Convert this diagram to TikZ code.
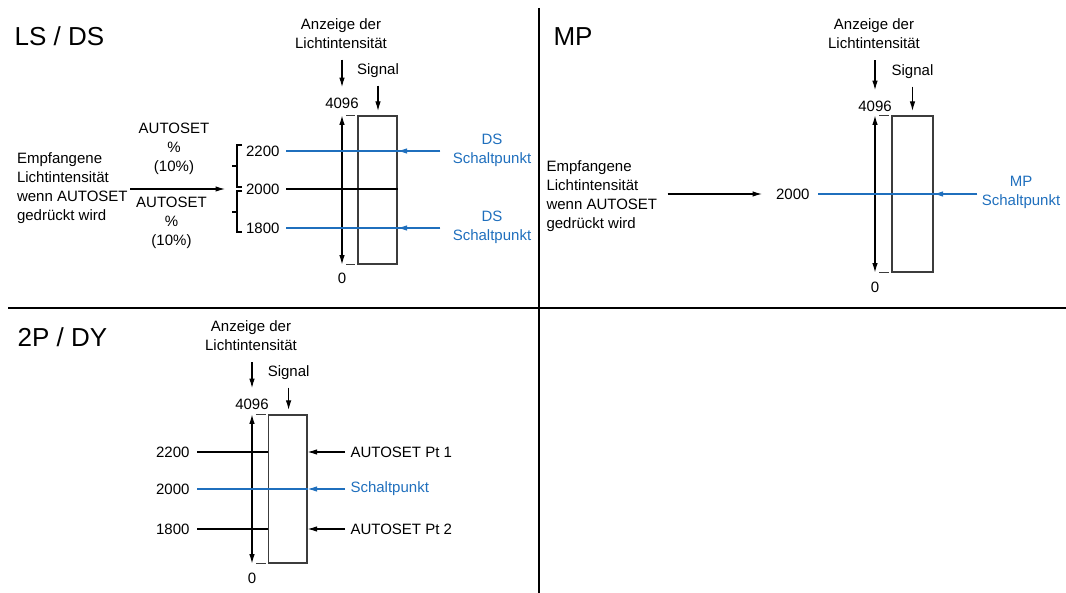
\documentclass[tikz,border=0pt]{standalone}
\usepackage{fontspec}
\setmainfont{Liberation Sans}
\usetikzlibrary{arrows.meta}
\definecolor{spblue}{RGB}{31,111,189}
\definecolor{boxgray}{RGB}{60,60,60}
\begin{document}
\begin{tikzpicture}[x=1pt, y=-1pt, line width=1.1pt,
  >={Latex[length=9.5pt,width=5.5pt]},
  lbl/.style={font=\fontsize{15}{19}\selectfont, inner sep=2pt, align=center},
  ttl/.style={font=\fontsize{26}{30}\selectfont, inner sep=0pt, anchor=base west},
  meterbox/.style={draw=boxgray, inner sep=0pt},
  down/.style={->, shorten <=8.5pt, shorten >=8pt},
  sigarrow/.style={->, shorten <=5pt, shorten >=4.5pt},
  sp/.style={draw=spblue}]
  \useasboundingbox (0,0) rectangle (1066,593);
  \draw[line width=1.4pt] (539,8) -- (539,593);
  \draw[line width=1.4pt] (8,308) -- (1066,308);

  % LS / DS
  \node[ttl] (t1) at (14,46) {LS / DS};
  \node[lbl] (anz1) at (341,33.5) {Anzeige der\\Lichtintensität};
  \node[lbl] (sig1) at (378,71) {Signal};
  \node[lbl] (top1) at (342,103) {4096};
  \node[lbl] (zero1) at (342,278) {0};
  \node[meterbox, minimum width=39pt, minimum height=148pt] (box1) at (377.5,190) {};
  \draw[<->] (top1 |- box1.north) -- (top1 |- box1.south);
  \draw[boxgray] ([xshift=4pt]top1 |- box1.north) -- ([xshift=-2pt]box1.north west);
  \draw[boxgray] ([xshift=4pt]top1 |- box1.south) -- ([xshift=-2pt]box1.south west);
  \draw[down] (top1 |- anz1.south) -- (top1);
  \draw[sigarrow] (sig1) -- (sig1 |- box1.north);
  \node[lbl, anchor=east] (a2200) at (282,151) {2200};
  \node[lbl, anchor=east] (a2000) at (282,189) {2000};
  \node[lbl, anchor=east] (a1800) at (282,228) {1800};
  \node[lbl, text=spblue] (ds1) at (492,150) {DS\\Schaltpunkt};
  \node[lbl, text=spblue] (ds2) at (492,227) {DS\\Schaltpunkt};
  \draw[sp, shorten <=4pt, shorten >=10pt] (a2200.east) -- (ds1.west |- a2200);
  \draw[sp, ->, shorten <=10pt] (ds1.west |- a2200) -- (box1.east |- a2200);
  \draw[sp, shorten <=4pt, shorten >=10pt] (a1800.east) -- (ds2.west |- a1800);
  \draw[sp, ->, shorten <=10pt] (ds2.west |- a1800) -- (box1.east |- a1800);
  \draw[shorten <=4pt] (a2000.east) -- (box1.east |- a2000);
  % brackets
  \coordinate (br) at (225,189);
  \draw (242,145) -- (237,145) -- (237,187) -- (242,187);
  \draw (237,166) -- (232,166);
  \draw (242,191) -- (237,191) -- (237,232) -- (242,232);
  \draw (237,212) -- (232,212);
  \node[lbl] (as1) at (174,148.5) {AUTOSET\\\%\\(10\%)};
  \node[lbl] (as2) at (171.5,222.5) {AUTOSET\\\%\\(10\%)};
  \node[lbl, anchor=west, align=left] (emp1) at (14.5,188) {Empfangene\\Lichtintensität\\wenn AUTOSET\\gedrückt wird};
  \draw[->] (emp1.east |- br) -- (br);

  % MP
  \node[ttl] (t2) at (553,46) {MP};
  \node[lbl] (anz2) at (874,34) {Anzeige der\\Lichtintensität};
  \node[lbl] (sig2) at (912.5,72) {Signal};
  \node[lbl] (top2) at (875,106) {4096};
  \node[lbl] (zero2) at (875,287) {0};
  \node[meterbox, minimum width=41pt, minimum height=156pt] (box2) at (912.5,194) {};
  \draw[<->] (top2 |- box2.north) -- (top2 |- box2.south);
  \draw[boxgray] ([xshift=4pt]top2 |- box2.north) -- ([xshift=-2pt]box2.north west);
  \draw[boxgray] ([xshift=4pt]top2 |- box2.south) -- ([xshift=-2pt]box2.south west);
  \draw[down] (top2 |- anz2.south) -- (top2);
  \draw[sigarrow] (sig2) -- (sig2 |- box2.north);
  \node[lbl, anchor=east] (m2000) at (812,194) {2000};
  \node[lbl, text=spblue] (mp) at (1021,192.5) {MP\\Schaltpunkt};
  \draw[sp, shorten <=6pt, shorten >=2pt] (m2000.east) -- (mp.west |- m2000);
  \draw[sp, ->, shorten <=2pt] (mp.west |- m2000) -- (box2.east |- m2000);
  \node[lbl, anchor=west, align=left] (emp2) at (544,196) {Empfangene\\Lichtintensität\\wenn AUTOSET\\gedrückt wird};
  \draw[->, shorten <=8pt, shorten >=11.5pt] (emp2.east |- m2000) -- (m2000.west);

  % 2P / DY
  \node[ttl] (t3) at (17,347) {2P / DY};
  \node[lbl] (anz3) at (251,336) {Anzeige der\\Lichtintensität};
  \node[lbl] (sig3) at (288.6,373) {Signal};
  \node[lbl] (top3) at (252,404) {4096};
  \node[lbl] (zero3) at (252,578) {0};
  \node[meterbox, minimum width=38.4pt, minimum height=148pt] (box3) at (287.8,489) {};
  \draw[<->] (top3 |- box3.north) -- (top3 |- box3.south);
  \draw[boxgray] ([xshift=4pt]top3 |- box3.north) -- ([xshift=-2pt]box3.north west);
  \draw[boxgray] ([xshift=4pt]top3 |- box3.south) -- ([xshift=-2pt]box3.south west);
  \draw[down] (top3 |- anz3.south) -- (top3);
  \draw[sigarrow] (sig3) -- (sig3 |- box3.north);
  \node[lbl, anchor=east] (b2200) at (192,452) {2200};
  \node[lbl, anchor=east] (b2000) at (192,489) {2000};
  \node[lbl, anchor=east] (b1800) at (192,529) {1800};
  \node[lbl, anchor=west] (pt1) at (348,452) {AUTOSET Pt 1};
  \node[lbl, anchor=west, text=spblue] (sp3) at (348,489) {Schaltpunkt};
  \node[lbl, anchor=west] (pt2) at (348,529) {AUTOSET Pt 2};
  \draw[shorten <=5pt] (b2200.east) -- (box3.west |- b2200);
  \draw[sp, shorten <=5pt] (b2000.east) -- (box3.east |- b2000);
  \draw[shorten <=5pt] (b1800.east) -- (box3.west |- b1800);
  \draw[->, shorten <=3pt] (pt1.west |- b2200) -- (box3.east |- b2200);
  \draw[sp, ->, shorten <=3pt] (sp3.west |- b2000) -- (box3.east |- b2000);
  \draw[->, shorten <=3pt] (pt2.west |- b1800) -- (box3.east |- b1800);
\end{tikzpicture}
\end{document}
